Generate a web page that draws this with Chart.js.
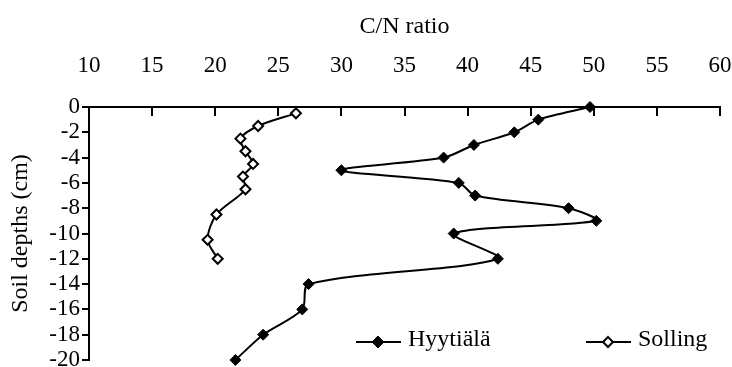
<!DOCTYPE html>
<html lang="en">
<head>
  <meta charset="UTF-8">
  <title>C/N ratio by soil depth</title>
  <script src="https://cdn.jsdelivr.net/npm/chart.js"></script>
  <style>
    body {
      margin: 0;
      padding: 0;
      background: #fff;
      overflow: hidden;
    }

    .chart-box {
      width: 732px;
      height: 367px;
    }
  </style>
</head>
<body>
  <div class="chart-box">
    <canvas id="cnChart"></canvas>
  </div>

  <script>
    // Hyytiälä profile
    const hyDepth = [0, -1, -2, -3, -4, -5, -6, -7, -8, -9, -10, -12, -14, -16, -18, -20];
    const hyCN = [49.7, 45.6, 43.7, 40.5, 38.1, 30.0, 39.3, 40.6, 48.0, 50.2, 38.9, 42.4, 27.4, 26.9, 23.8, 21.6];

    // Solling profile
    const soDepth = [-0.5, -1.5, -2.5, -3.5, -4.5, -5.5, -6.5, -8.5, -10.5, -12];
    const soCN = [26.4, 23.4, 22.0, 22.4, 23.0, 22.2, 22.4, 20.1, 19.4, 20.2];

    // Tick labels
    const cnTicks = [10, 15, 20, 25, 30, 35, 40, 45, 50, 55, 60];
    const depthTicks = [0, -2, -4, -6, -8, -10, -12, -14, -16, -18, -20];

    const seriesNames = ['Hyytiälä', 'Solling'];

    const toPoints = (xs, ys) => xs.map((x, i) => ({ x: x, y: ys[i] }));

    const serif = "'Liberation Serif', serif";
    Chart.defaults.font.family = serif;
    Chart.defaults.font.size = 23;
    Chart.defaults.color = '#000';

    // draws a diamond marker
    function diamond(ctx, x, y, r, fill, lw) {
      ctx.beginPath();
      ctx.moveTo(x, y - r);
      ctx.lineTo(x + r, y);
      ctx.lineTo(x, y + r);
      ctx.lineTo(x - r, y);
      ctx.closePath();
      ctx.fillStyle = fill;
      ctx.fill();
      ctx.lineWidth = lw;
      ctx.strokeStyle = '#000';
      ctx.stroke();
    }

    // legend sits in the lower right of the plot
    const cornerLegend = {
      id: 'cornerLegend',
      afterDraw(chart) {
        const ctx = chart.ctx;
        const area = chart.chartArea;
        const y = area.bottom - 18;
        const starts = [area.left + 267, area.left + 497];
        const fills = ['#000', '#fff'];
        ctx.save();
        seriesNames.forEach((name, i) => {
          const x0 = starts[i];
          ctx.beginPath();
          ctx.moveTo(x0, y);
          ctx.lineTo(x0 + 45, y);
          ctx.lineWidth = 2;
          ctx.strokeStyle = '#000';
          ctx.stroke();
          diamond(ctx, x0 + 22, y, i === 0 ? 6 : 5, fills[i], i === 0 ? 1 : 2);
          ctx.fillStyle = '#000';
          ctx.font = '24px ' + serif;
          ctx.textBaseline = 'alphabetic';
          ctx.textAlign = 'left';
          ctx.fillText(name, x0 + 52, y + 4);
        });
        ctx.restore();
      }
    };

    const cnChart = new Chart(document.getElementById('cnChart'), {
      type: 'line',
      data: {
        datasets: [{
          label: seriesNames[0],
          data: toPoints(hyCN, hyDepth),
          borderColor: '#000',
          borderWidth: 2,
          backgroundColor: '#000',
          pointStyle: 'rectRot',
          pointRadius: 5.5,
          pointBorderWidth: 1,
          pointBackgroundColor: '#000',
          tension: 0.3,
          clip: false
        }, {
          label: seriesNames[1],
          data: toPoints(soCN, soDepth),
          borderColor: '#000',
          borderWidth: 2,
          backgroundColor: '#fff',
          pointStyle: 'rectRot',
          pointRadius: 5,
          pointBorderWidth: 2,
          pointBackgroundColor: '#fff',
          tension: 0.3,
          clip: false
        }]
      },
      options: {
        responsive: true,
        maintainAspectRatio: false,
        animation: false,
        layout: {
          padding: { top: 0, left: 0, right: 12, bottom: 6 }
        },
        plugins: {
          legend: { display: false },
          tooltip: { enabled: false }
        },
        scales: {
          x: {
            type: 'linear',
            position: 'top',
            min: 10,
            max: 60,
            afterBuildTicks: s => { s.ticks = cnTicks.map(v => ({ value: v })); },
            afterFit: s => {
              s.height = 107;
              s.paddingLeft = 0;
              s.paddingRight = 0;
            },
            border: { color: '#000', width: 2 },
            grid: {
              drawOnChartArea: false,
              color: '#000',
              lineWidth: 2,
              tickLength: -9
            },
            ticks: { padding: 36, maxRotation: 0, autoSkip: false },
            title: {
              display: true,
              text: 'C/N ratio',
              font: { size: 24 },
              padding: { top: 12, bottom: 0 }
            }
          },
          y: {
            type: 'linear',
            min: -20,
            max: 0,
            afterBuildTicks: s => { s.ticks = depthTicks.map(v => ({ value: v })); },
            afterFit: s => {
              s.width = 89;
              s.paddingTop = 0;
              s.paddingBottom = 0;
            },
            border: { color: '#000', width: 2 },
            grid: {
              drawOnChartArea: false,
              color: '#000',
              lineWidth: 2,
              tickLength: 7
            },
            ticks: { padding: 2, autoSkip: false },
            title: {
              display: true,
              text: 'Soil depths (cm)',
              font: { size: 24 },
              padding: { top: 6, bottom: 0 }
            }
          }
        }
      },
      plugins: [cornerLegend]
    });
  </script>
</body>
</html>
